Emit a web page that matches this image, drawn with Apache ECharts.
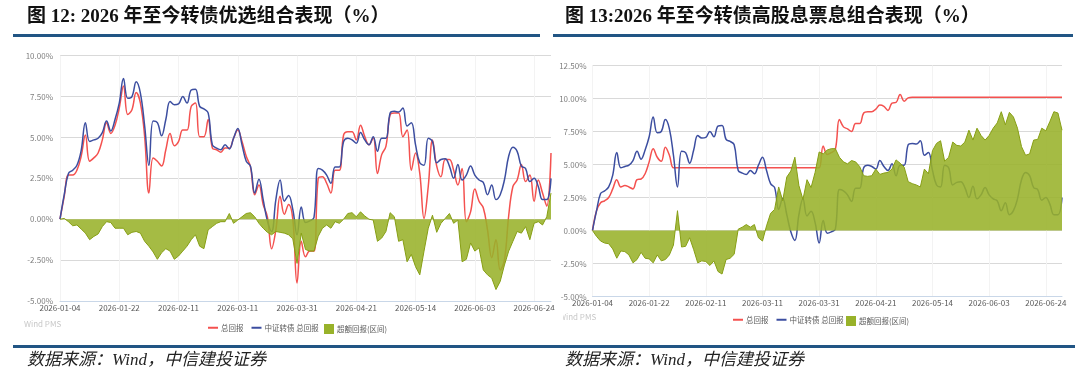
<!DOCTYPE html>
<html><head><meta charset="utf-8">
<script src="https://cdn.jsdelivr.net/npm/echarts@6/dist/echarts.min.js"></script>
<style>html,body{margin:0;padding:0;background:#fff}#c{width:1080px;height:390px}</style>
</head><body><div id="c"></div>
<script>
const dates = ['2026-01-04','2026-01-05','2026-01-06','2026-01-07','2026-01-08','2026-01-09','2026-01-12','2026-01-13','2026-01-14','2026-01-15','2026-01-16','2026-01-19','2026-01-20','2026-01-21','2026-01-22','2026-01-23','2026-01-26','2026-01-27','2026-01-28','2026-01-29','2026-01-30','2026-02-02','2026-02-03','2026-02-04','2026-02-05','2026-02-06','2026-02-09','2026-02-10','2026-02-11','2026-02-12','2026-02-13','2026-02-24','2026-02-25','2026-02-26','2026-02-27','2026-03-02','2026-03-03','2026-03-04','2026-03-05','2026-03-06','2026-03-09','2026-03-10','2026-03-11','2026-03-12','2026-03-13','2026-03-16','2026-03-17','2026-03-18','2026-03-19','2026-03-20','2026-03-23','2026-03-24','2026-03-25','2026-03-26','2026-03-27','2026-03-30','2026-03-31','2026-04-01','2026-04-02','2026-04-03','2026-04-07','2026-04-08','2026-04-09','2026-04-10','2026-04-13','2026-04-14','2026-04-15','2026-04-16','2026-04-17','2026-04-20','2026-04-21','2026-04-22','2026-04-23','2026-04-24','2026-04-27','2026-04-28','2026-04-29','2026-04-30','2026-05-06','2026-05-07','2026-05-08','2026-05-11','2026-05-12','2026-05-13','2026-05-14','2026-05-15','2026-05-18','2026-05-19','2026-05-20','2026-05-21','2026-05-22','2026-05-25','2026-05-26','2026-05-27','2026-05-28','2026-05-29','2026-06-01','2026-06-02','2026-06-03','2026-06-04','2026-06-05','2026-06-08','2026-06-09','2026-06-10','2026-06-11','2026-06-12','2026-06-15','2026-06-16','2026-06-17','2026-06-18','2026-06-22','2026-06-23','2026-06-24','2026-06-25','2026-06-26','2026-06-29','2026-06-30'];

// 中证转债 总回报 (shared benchmark)
const indexTotal = [0,1.5,2.8,3.0,3.3,4.2,5.9,4.75,4.85,4.95,5.3,6.0,5.4,6.1,7.1,8.6,7.4,7.5,8.4,7.7,5.7,3.3,6.0,5.9,5.1,6.1,7.2,7.0,7.05,7.5,7.1,7.9,7.95,6.9,6.75,6.5,4.55,4.35,4.25,4.55,4.3,4.95,5.55,4.55,3.55,3.25,1.6,2.45,1.2,-0.1,-0.75,1.2,2.4,1.1,1.45,0.6,-0.95,0.75,-0.2,-0.1,0.1,3.1,3.0,2.7,2.2,3.2,3.2,4.75,4.95,4.85,4.65,5.3,4.85,4.55,5.05,4.15,4.95,4.95,6.5,6.6,6.55,6.8,5.7,5.9,4.55,3.45,3.3,4.95,4.75,3.45,3.65,3.7,3.25,2.5,3.35,2.4,2.7,3.25,2.7,2.4,2.25,1.5,2.1,1.2,1.5,2.4,3.85,4.4,4.15,3.25,3.1,2.3,2.5,2.0,1.2,1.2,2.5];

// 图12 转债优选组合
const leftTotal = [0,1.4,2.7,2.7,3.0,3.85,5.15,3.55,3.75,4.05,4.85,5.9,5.25,5.75,6.8,8.15,6.4,6.7,7.75,7.1,5.05,1.6,3.75,3.55,3.25,4.25,5.25,4.5,4.75,5.45,5.45,6.9,7.1,5.05,5.05,6.1,4.35,4.25,4.1,4.35,4.35,4.95,5.45,4.75,3.85,3.2,1.5,2.1,0.9,0.15,-1.8,-0.65,1.4,0.3,0.9,0,-3.9,-1.35,-2.3,-1.95,-1.95,2.5,2.6,2.2,1.6,3.0,3.0,5.15,5.35,5.35,4.85,5.75,5.05,4.55,5.0,2.8,3.95,4.45,6.4,6.5,6.5,5.05,5.45,3.0,4.05,2.8,0.05,2.0,4.85,3.25,2.6,3.65,3.65,3.0,2.1,3.1,-0.15,0.45,1.85,1.1,0.7,-0.65,-2.35,-1.25,-3.1,-2.5,0.2,2.0,2.4,3.35,2.3,2.7,1.1,2.4,1.6,0.8,4.05];
const leftExcess = [0,0.05,-0.15,-0.4,-0.35,-0.6,-0.85,-1.25,-1.05,-0.9,-0.45,-0.15,-0.2,-0.55,-0.55,-0.55,-0.95,-0.8,-0.75,-0.85,-1.35,-1.65,-2.0,-2.45,-2.05,-1.8,-1.95,-2.45,-2.25,-1.95,-1.65,-1.25,-0.95,-1.65,-1.8,-0.65,-0.45,-0.25,-0.15,-0.15,0.35,-0.25,-0.05,0.15,0.35,0.4,0.15,-0.25,-0.55,-0.8,-0.95,-0.75,-0.8,-0.85,-0.95,-1.2,-2.7,-0.85,-1.85,-1.95,-1.95,-1.05,-0.55,-0.35,-0.55,-0.15,-0.25,0,0.35,0.4,0.15,0.45,0.2,0,-0.05,-1.35,-1.15,-0.75,0.4,0.15,-1.35,-1.25,-2.6,-2.15,-2.9,-3.4,-1.95,-0.55,0.25,-0.8,-0.25,0.05,0.35,-0.25,-0.05,-2.6,-2.45,-1.45,-1.95,-1.75,-3.1,-3.4,-3.6,-4.3,-3.8,-2.8,-1.95,-1.35,-0.75,-0.85,-0.45,-1.25,-0.25,-0.15,-0.35,0.15,1.6];

// 图13 转债高股息票息组合
const rightTotal = [0,1.5,2.1,2.25,2.5,3.15,3.85,3.3,3.4,3.3,3.15,3.85,3.9,4.3,5.2,6.2,5.55,5.25,6.3,5.7,4.75,4.75,4.75,4.75,4.75,4.75,4.75,4.75,4.75,4.75,4.75,4.75,4.75,4.75,4.75,4.75,4.75,4.75,4.75,4.75,4.75,4.75,4.75,4.75,4.75,4.75,4.75,4.75,4.75,4.75,4.75,4.75,4.75,4.75,4.75,4.75,4.75,6.4,5.75,5.9,6.15,8.4,7.85,7.7,7.5,8.1,8.1,8.9,9.0,9.0,9.2,9.5,9.4,9.1,9.65,9.7,10.3,9.8,10.05,10.1,10.1,10.1,10.1,10.1,10.1,10.1,10.1,10.1,10.1,10.1,10.1,10.1,10.1,10.1,10.1,10.1,10.1,10.1,10.1,10.1,10.1,10.1,10.1,10.1,10.1,10.1,10.1,10.1,10.1,10.1,10.1,10.1,10.1,10.1,10.1,10.1,10.1];
const rightExcess = [0,-0.45,-0.8,-0.95,-1.0,-1.4,-2.1,-1.55,-1.6,-1.85,-2.45,-2.2,-1.65,-2.1,-2.15,-2.45,-1.85,-2.3,-2.2,-1.85,-1.1,1.5,-1.25,-1.2,-0.55,-1.45,-2.45,-2.3,-2.35,-2.65,-2.3,-3.1,-3.3,-2.2,-2.1,-1.8,0.1,0.25,0.45,0.25,0.45,-0.55,-0.8,0.35,1.3,1.6,3.3,2.25,4.05,4.5,5.55,3.4,2.35,3.85,3.25,4.4,5.95,5.8,6.1,6.2,6.2,5.55,5.2,5.05,5.3,5.2,4.85,4.15,4.1,4.15,4.65,4.25,4.35,4.4,4.65,5.35,5.1,4.8,3.7,3.55,3.45,3.3,4.65,4.3,6.05,6.6,6.8,5.25,5.55,6.7,6.45,6.4,6.7,7.6,6.85,7.75,7.2,6.85,7.2,7.75,8.15,9.0,8.0,8.95,8.6,7.75,6.35,5.7,5.8,6.85,6.9,7.75,7.55,8.25,9.0,8.9,7.6];

const leftYTicks = {min:-5, max:10, interval:2.5};
const rightYTicks = {min:-5, max:12.5, interval:2.5};
const labelEvery = 14;

const RED = '#f4514f', BLUE = '#3c4ea0', GREEN = '#98b22a', GREEN_LINE = '#869e14';
const FONT = '"Noto Sans CJK SC","Noto Sans",sans-serif';

const chart = echarts.init(document.getElementById('c'), null, {renderer:'canvas'});

function xAxis(gridIndex, margin){
  return {
    type:'category', gridIndex, data:dates, boundaryGap:false,
    axisLine:{onZero:false, lineStyle:{color:'#c9d7e8', width:1}},
    axisTick:{show:false},
    axisLabel:{interval:labelEvery-1, fontSize:8, color:'#595959', margin, fontFamily:FONT},
    splitLine:{show:true, interval:labelEvery-1, lineStyle:{color:'#f3f3f3', width:1}}
  };
}
function yAxis(gridIndex, t, margin){
  return {
    type:'value', gridIndex, min:t.min, max:t.max, interval:t.interval,
    axisLine:{show:false}, axisTick:{show:false},
    axisLabel:{formatter:v=>v.toFixed(2)+'%', fontSize:8, color:'#7f7f7f', margin, fontFamily:FONT},
    splitLine:{lineStyle:{color:'#d9d9d9', width:1}}
  };
}
function lineSeries(name, data, color, idx){
  return {name, type:'line', xAxisIndex:idx, yAxisIndex:idx, data, smooth:0.4, showSymbol:false, symbol:'none',
    lineStyle:{color, width:1.5}, itemStyle:{color}, z:2};
}
function areaSeries(name, data, idx){
  return {name, type:'line', xAxisIndex:idx, yAxisIndex:idx, data, smooth:false, showSymbol:false, symbol:'none',
    lineStyle:{color:GREEN_LINE, width:1}, itemStyle:{color:GREEN},
    areaStyle:{color:GREEN, opacity:0.88, origin:0}, z:3};
}
const legText = {fontSize:7.5, color:'#595959', padding:[0,0,0,-2]};
function legend(left, top, names, isArea){
  return {left, top, icon:'rect', itemWidth:10, itemHeight:isArea?10:2, itemGap:8, data:names,
    textStyle:legText, selectedMode:false};
}

const titleStyle = {fontSize:19, fontWeight:'bold', fontFamily:'"Liberation Serif","Noto Sans CJK SC",serif', fill:'#111'};
const srcStyle = {fontSize:17, fontStyle:'italic', fontFamily:'"Liberation Serif","Noto Sans CJK SC",serif', fill:'#222'};

chart.setOption({
  animation:false,
  textStyle:{fontFamily:FONT},
  grid:[
    {left:60, right:529, top:55.7, bottom:89},
    {left:592.5, right:18, top:65.5, bottom:93.5}
  ],
  xAxis:[xAxis(0,3), xAxis(1,2)],
  yAxis:[yAxis(0,leftYTicks,7), yAxis(1,rightYTicks,6)],
  legend:[
    legend(203, 319, ['总回报','中证转债 总回报'], false),
    legend(319, 319, ['超额回报(区间)'], true),
    legend(728, 311, ['总回报','中证转债 总回报'], false),
    legend(841, 311, ['超额回报(区间)'], true)
  ],
  series:[
    lineSeries('总回报', leftTotal, RED, 0),
    lineSeries('中证转债 总回报', indexTotal, BLUE, 0),
    areaSeries('超额回报(区间)', leftExcess, 0),
    lineSeries('总回报', rightTotal, RED, 1),
    lineSeries('中证转债 总回报', indexTotal, BLUE, 1),
    areaSeries('超额回报(区间)', rightExcess, 1)
  ],
  graphic:[
    {type:'text', left:27, top:8, style:Object.assign({text:'图 12: 2026 年至今转债优选组合表现（%）'}, titleStyle)},
    {type:'text', left:565, top:8, style:Object.assign({text:'图 13:2026 年至今转债高股息票息组合表现（%）'}, titleStyle)},
    {type:'rect', shape:{x:13, y:34, width:527, height:3}, style:{fill:'#215584'}},
    {type:'rect', shape:{x:553, y:34, width:520, height:3}, style:{fill:'#215584'}},
    {type:'rect', shape:{x:13, y:345, width:1062, height:3}, style:{fill:'#215584'}},
    {type:'text', left:24, top:320, style:{text:'Wind PMS', fontSize:8, fill:'#c8c8c8', fontFamily:FONT}},
    {type:'text', left:559, top:313, style:{text:'Wind PMS', fontSize:8, fill:'#c8c8c8', fontFamily:FONT}},
    {type:'rect', z:100, shape:{x:553, y:310, width:10, height:16}, style:{fill:'#fff'}},
    {type:'text', left:27, top:352, style:Object.assign({text:'数据来源：Wind，中信建投证券'}, srcStyle)},
    {type:'text', left:565, top:352, style:Object.assign({text:'数据来源：Wind，中信建投证券'}, srcStyle)}
  ]
});
</script></body></html>
